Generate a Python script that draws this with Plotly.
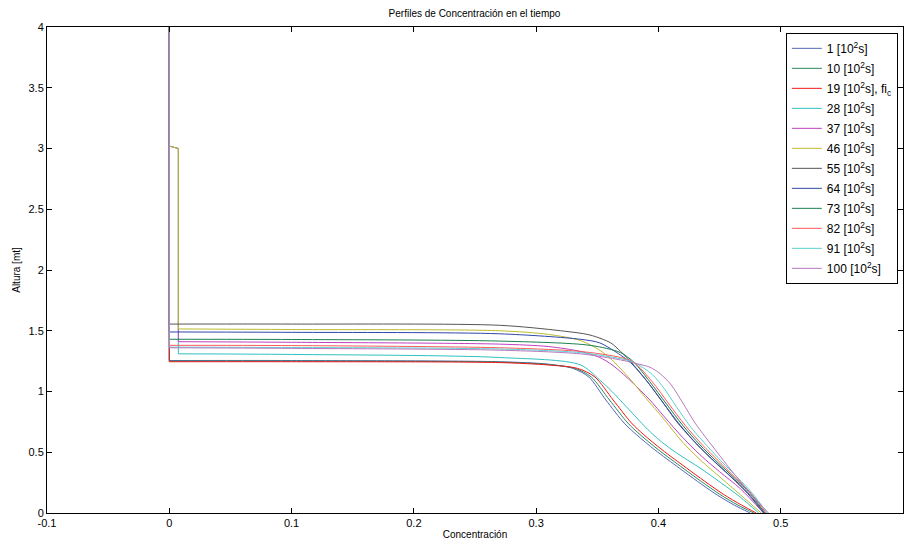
import plotly.graph_objects as go

# Legend labels (time in 10^2 s)
labels = ["1 [10<sup>2</sup>s]", "10 [10<sup>2</sup>s]", "19 [10<sup>2</sup>s], fi<sub>c</sub>",
          "28 [10<sup>2</sup>s]", "37 [10<sup>2</sup>s]", "46 [10<sup>2</sup>s]",
          "55 [10<sup>2</sup>s]", "64 [10<sup>2</sup>s]", "73 [10<sup>2</sup>s]",
          "82 [10<sup>2</sup>s]", "91 [10<sup>2</sup>s]", "100 [10<sup>2</sup>s]"]

colors = ["#5566b8", "#2a8a5a", "#f01818", "#30c0c0", "#c040c0", "#bcbc30",
          "#555555", "#2f47a8", "#1a8050", "#ff5a5a", "#5cd0d0", "#b878c0"]

# Concentración (c) and Altura (h) profiles
c_1 = [0, 0, 0.10, 0.27, 0.31, 0.33, 0.343, 0.357, 0.372, 0.382, 0.397, 0.417, 0.432, 0.447, 0.462, 0.475]
h_1 = [4, 1.255, 1.255, 1.245, 1.225, 1.19, 1.12, 0.93, 0.74, 0.645, 0.52, 0.37, 0.26, 0.155, 0.065, 0]
c_10 = [0, 0, 0.10, 0.27, 0.31, 0.332, 0.345, 0.36, 0.375, 0.385, 0.40, 0.42, 0.435, 0.45, 0.465, 0.478]
h_10 = [4, 1.25, 1.25, 1.242, 1.222, 1.19, 1.12, 0.93, 0.74, 0.645, 0.52, 0.37, 0.26, 0.155, 0.065, 0]
c_19 = [0, 0, 0.10, 0.27, 0.31, 0.334, 0.348, 0.363, 0.378, 0.388, 0.403, 0.423, 0.438, 0.453, 0.468, 0.48]
h_19 = [4, 1.245, 1.245, 1.238, 1.218, 1.19, 1.12, 0.93, 0.74, 0.645, 0.52, 0.37, 0.26, 0.155, 0.065, 0]
c_28 = [0, 0, 0.0074, 0.0074, 0.10, 0.27, 0.336, 0.352, 0.362, 0.377, 0.391, 0.402, 0.414, 0.434, 0.451, 0.467, 0.482]
h_28 = [4, 3.02, 3.0, 1.31, 1.305, 1.28, 1.22, 1.095, 1.0, 0.84, 0.69, 0.59, 0.50, 0.37, 0.25, 0.13, 0]
c_37 = [0, 0, 0.0074, 0.0074, 0.10, 0.27, 0.31, 0.336, 0.352, 0.362, 0.377, 0.393, 0.405, 0.42, 0.435, 0.45, 0.467, 0.486]
h_37 = [4, 3.02, 3.0, 1.41, 1.405, 1.39, 1.37, 1.33, 1.28, 1.22, 1.09, 0.93, 0.79, 0.62, 0.47, 0.34, 0.2, 0]
c_46 = [0, 0, 0.0074, 0.0074, 0.10, 0.27, 0.31, 0.336, 0.352, 0.362, 0.377, 0.391, 0.403, 0.42, 0.435, 0.451, 0.467, 0.484]
h_46 = [4, 3.02, 3.0, 1.515, 1.51, 1.50, 1.47, 1.42, 1.34, 1.26, 1.10, 0.93, 0.79, 0.58, 0.43, 0.29, 0.15, 0]
c_55 = [0, 0, 0.10, 0.27, 0.32, 0.344, 0.361, 0.369, 0.377, 0.391, 0.404, 0.415, 0.43, 0.44, 0.455, 0.47, 0.487]
h_55 = [4, 1.555, 1.555, 1.545, 1.50, 1.465, 1.40, 1.33, 1.25, 1.08, 0.905, 0.75, 0.58, 0.48, 0.34, 0.20, 0]
c_64 = [0, 0, 0.10, 0.27, 0.336, 0.352, 0.369, 0.377, 0.391, 0.404, 0.418, 0.432, 0.445, 0.46, 0.473, 0.486]
h_64 = [4, 1.49, 1.487, 1.475, 1.43, 1.40, 1.30, 1.24, 1.08, 0.905, 0.72, 0.56, 0.43, 0.29, 0.16, 0]
c_73 = [0, 0, 0.10, 0.27, 0.344, 0.369, 0.38, 0.393, 0.406, 0.42, 0.434, 0.447, 0.462, 0.475, 0.487]
h_73 = [4, 1.43, 1.428, 1.415, 1.38, 1.32, 1.24, 1.08, 0.905, 0.72, 0.56, 0.43, 0.29, 0.16, 0]
c_82 = [0, 0, 0.10, 0.27, 0.336, 0.369, 0.38, 0.395, 0.408, 0.422, 0.436, 0.449, 0.463, 0.476, 0.488]
h_82 = [4, 1.38, 1.378, 1.36, 1.33, 1.28, 1.24, 1.08, 0.905, 0.72, 0.56, 0.43, 0.29, 0.16, 0]
c_91 = [0, 0, 0.10, 0.27, 0.336, 0.369, 0.38, 0.395, 0.405, 0.415, 0.427, 0.44, 0.452, 0.465, 0.477, 0.489]
h_91 = [4, 1.365, 1.362, 1.35, 1.32, 1.27, 1.24, 1.14, 1.02, 0.87, 0.70, 0.55, 0.42, 0.29, 0.16, 0]
c_100 = [0, 0, 0.10, 0.27, 0.336, 0.369, 0.38, 0.393, 0.401, 0.41, 0.42, 0.43, 0.448, 0.458, 0.467, 0.478, 0.49]
h_100 = [4, 1.36, 1.355, 1.34, 1.31, 1.26, 1.235, 1.20, 1.15, 1.06, 0.905, 0.74, 0.50, 0.37, 0.26, 0.13, 0]

c_all = [c_1, c_10, c_19, c_28, c_37, c_46, c_55, c_64, c_73, c_82, c_91, c_100]
h_all = [h_1, h_10, h_19, h_28, h_37, h_46, h_55, h_64, h_73, h_82, h_91, h_100]

x_ticks = [-0.1, 0, 0.1, 0.2, 0.3, 0.4, 0.5, 0.6]
y_ticks = [0, 0.5, 1, 1.5, 2, 2.5, 3, 3.5, 4]

FONT = "Liberation Sans, Arial, sans-serif"

fig = go.Figure()
for i, (cc, hh) in enumerate(zip(c_all, h_all)):
    # split: the sharp vertical/step part near c=0 is drawn straight, the rest smooth
    k = max(j for j, v in enumerate(cc) if v <= 0.008)
    fig.add_trace(go.Scatter(x=cc[:k + 1], y=hh[:k + 1], mode="lines", name=labels[i],
                             legendgroup=f"g{i}", line=dict(color=colors[i], width=1)))
    fig.add_trace(go.Scatter(x=cc[k:], y=hh[k:], mode="lines", name=labels[i],
                             legendgroup=f"g{i}", showlegend=False,
                             line=dict(color=colors[i], width=1, shape="spline", smoothing=0.8)))

axis_common = dict(showline=True, linecolor="#000000", linewidth=1, mirror="ticks",
                   ticks="inside", ticklen=5, tickcolor="#000000", showgrid=False,
                   zeroline=False, tickfont=dict(family=FONT, size=11, color="#000000"))

fig.update_layout(
    width=909, height=543,
    margin=dict(l=47, r=6, t=27, b=30),
    paper_bgcolor="white", plot_bgcolor="white",
    title=dict(text="Perfiles de Concentración en el tiempo", x=0.522, xanchor="center",
               y=0.976, yanchor="middle", font=dict(family=FONT, size=10, color="#000000")),
    xaxis=dict(range=[-0.1, 0.6], tickvals=x_ticks, ticktext=[str(v) for v in x_ticks],
               title=dict(text="Concentración", standoff=2,
                          font=dict(family=FONT, size=10, color="#000000")),
               **axis_common),
    yaxis=dict(range=[0, 4], tickvals=y_ticks, ticktext=[str(v) for v in y_ticks],
               title=dict(text="Altura [mt]", standoff=6,
                          font=dict(family=FONT, size=10, color="#000000")),
               **axis_common),
    legend=dict(x=0.994, y=0.988, xanchor="right", yanchor="top",
                bordercolor="#000000", borderwidth=1, bgcolor="white",
                font=dict(family=FONT, size=12, color="#000000"),
                itemwidth=30, tracegroupgap=1),
    showlegend=True,
)

fig.write_html("out.html")
